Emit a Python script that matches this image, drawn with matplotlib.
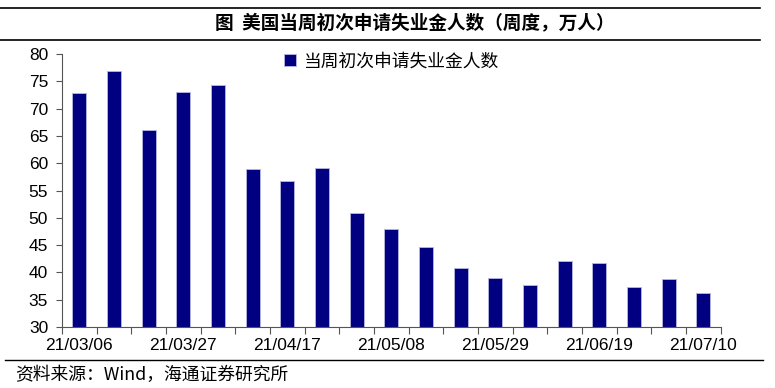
import matplotlib.pyplot as plt
import numpy as np

plt.rcParams['font.family'] = ['Noto Sans CJK SC', 'DejaVu Sans']

# 周度数据（万人）
weeks = ['21/03/06', '21/03/13', '21/03/20', '21/03/27', '21/04/03', '21/04/10',
         '21/04/17', '21/04/24', '21/05/01', '21/05/08', '21/05/15', '21/05/22',
         '21/05/29', '21/06/05', '21/06/12', '21/06/19', '21/06/26', '21/07/03',
         '21/07/10']
claims = [72.8, 76.8, 66.0, 73.1, 74.4, 58.9, 56.8, 59.1, 50.8, 48.0,
          44.6, 40.8, 39.0, 37.7, 42.1, 41.7, 37.3, 38.8, 36.2]
series_name = '当周初次申请失业金人数'
title = '图  美国当周初次申请失业金人数（周度，万人）'
source = '资料来源：Wind，海通证券研究所'

fig = plt.figure(figsize=(7.75, 3.88), dpi=100)
ax = fig.add_axes([0.080, 0.157, 0.850, 0.704])

x = np.arange(len(weeks))
ax.bar(x, claims, width=0.4, color='#000080', edgecolor='#b8b8e0', linewidth=0.6,
       label=series_name, zorder=2)

ax.set_ylim(30, 80)
ax.set_yticks(range(30, 81, 5))
ax.set_xlim(-0.5, len(weeks) - 0.5)

# 刻度线放在类别之间，标签每3周一个
ax.set_xticks(np.arange(-0.5, len(weeks), 1.0), minor=False)
ax.set_xticklabels([])
ax.set_xticks(x[::3], minor=True)
ax.set_xticklabels(weeks[::3], minor=True, family=['Liberation Sans'], fontsize=12.5)
ax.tick_params(axis='x', which='minor', length=0, pad=8)
ax.tick_params(axis='x', which='major', length=5, direction='out', color='#555555')
ax.tick_params(axis='y', length=4, direction='out', color='#555555', pad=6)
for lab in ax.get_yticklabels():
    lab.set_family(['Liberation Sans'])
    lab.set_fontsize(12.5)

ax.spines['top'].set_visible(False)
ax.spines['right'].set_visible(False)
ax.spines['left'].set_color('#555555')
ax.spines['bottom'].set_color('#555555')

leg = ax.legend(loc='upper center', bbox_to_anchor=(0.50, 1.065), frameon=False,
                fontsize=12.8, handlelength=0.7, handleheight=0.7, handletextpad=0.4)

# 标题与上下横线
fig.add_artist(plt.Line2D([0.0, 0.98], [0.980, 0.980], color='black', lw=1.2))
fig.add_artist(plt.Line2D([0.0, 0.98], [0.897, 0.897], color='black', lw=1.2))
fig.text(0.535, 0.940, title, ha='center', va='center', fontsize=13.4, fontweight='heavy')

# 资料来源
fig.add_artist(plt.Line2D([0.007, 0.985], [0.072, 0.072], color='black', lw=1.0))
fig.text(0.02, 0.033, source, ha='left', va='center', fontsize=12.8)

fig.savefig('out.png', dpi=100)
